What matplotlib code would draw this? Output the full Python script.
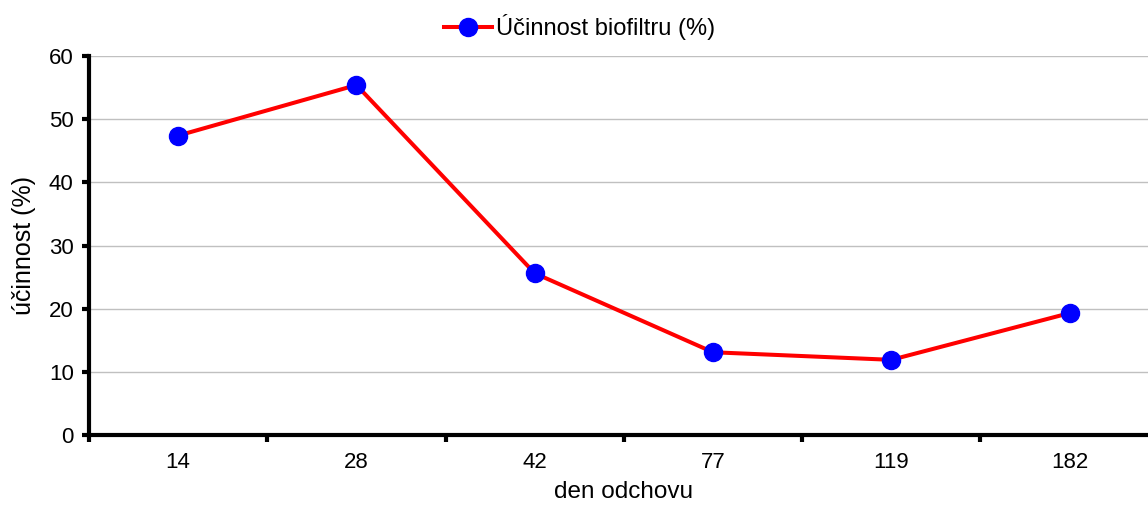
import matplotlib.pyplot as plt

plt.rcParams['font.family'] = ['Liberation Sans', 'DejaVu Sans']

days = ['14', '28', '42', '77', '119', '182']
efficiency = [47.4, 55.4, 25.6, 13.1, 11.9, 19.3]

fig = plt.figure(figsize=(11.48, 5.09), dpi=100)
ax = fig.add_axes([89 / 1148, 1 - 435 / 509, (1158.8 - 89) / 1148, (435 - 56) / 509])

x = list(range(len(days)))
ax.plot(x, efficiency, color='#ff0000', linewidth=2.9, marker='o', markersize=13,
        markerfacecolor='#0000ff', markeredgecolor='#0000ff', label='Účinnost biofiltru (%)',
        zorder=3)

ax.set_xlim(-0.5, len(days) - 0.5)
ax.set_ylim(0, 60)
ax.set_yticks(range(0, 61, 10))
ax.set_xticks(x)
ax.set_xticklabels(days)
ax.set_xticks([i - 0.5 for i in range(len(days) + 1)], minor=True)
ax.tick_params(axis='x', which='major', length=0, pad=12, labelsize=16)
ax.tick_params(axis='x', which='minor', length=5, width=3, direction='out')
ax.tick_params(axis='y', length=5, width=3, direction='out', labelsize=16, pad=6)
ax.grid(axis='y', color='#c0c0c0', linewidth=1)
ax.set_axisbelow(True)

for s in ['top', 'right']:
    ax.spines[s].set_visible(False)
for s in ['left', 'bottom']:
    ax.spines[s].set_linewidth(3)

ax.set_xlabel('den odchovu', fontsize=17.5, labelpad=6)
ax.set_ylabel('účinnost (%)', fontsize=18, labelpad=9)

fig.legend(loc='center', bbox_to_anchor=(580 / 1148, 1 - 27 / 509), frameon=False,
           fontsize=17, handlelength=2.0, handletextpad=0.2)

fig.savefig('out.png', dpi=100)
